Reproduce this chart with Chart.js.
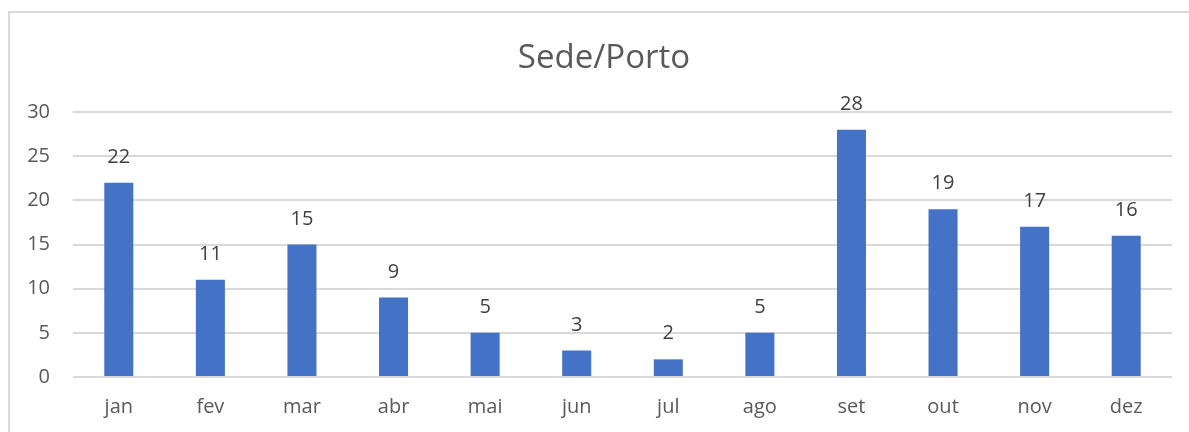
<!DOCTYPE html>
<html>
<head>
<meta charset="utf-8">
<script src="https://cdn.jsdelivr.net/npm/chart.js@4"></script>
<style>
  html, body { margin: 0; padding: 0; background: #fff; overflow: hidden; }
  #wrap { position: relative; width: 1189px; height: 432px; }
  #frame { position: absolute; left: 8px; top: 11px; width: 1190px; height: 440px; border: 2px solid #d9d9d9; box-sizing: border-box; }
  canvas { position: absolute; left: 0; top: 0; }
</style>
</head>
<body>
<div id="wrap">
  <div id="frame"></div>
  <canvas id="chart" width="1189" height="432"></canvas>
</div>
<script>
const months = ['jan', 'fev', 'mar', 'abr', 'mai', 'jun', 'jul', 'ago', 'set', 'out', 'nov', 'dez'];
const values = [22, 11, 15, 9, 5, 3, 2, 5, 28, 19, 17, 16];
const chartTitle = 'Sede/Porto';

const textColor = '#595959';
const fontFamily = '"Open Sans", Calibri, sans-serif';

// draws the value above each bar
const barLabels = {
    id: 'barLabels',
    afterDatasetsDraw(chart) {
        const ctx = chart.ctx;
        const meta = chart.getDatasetMeta(0);
        ctx.save();
        ctx.font = '20px ' + fontFamily;
        ctx.fillStyle = '#404040';
        ctx.textAlign = 'center';
        ctx.textBaseline = 'alphabetic';
        meta.data.forEach((bar, i) => {
            ctx.fillText(String(values[i]), bar.x, bar.y - 20);
        });
        ctx.restore();
    }
};

// title centred on the frame rather than on the canvas
const frameTitle = {
    id: 'frameTitle',
    afterDraw(chart) {
        const ctx = chart.ctx;
        ctx.save();
        ctx.font = '33px ' + fontFamily;
        ctx.fillStyle = textColor;
        ctx.textAlign = 'center';
        ctx.textBaseline = 'middle';
        ctx.fillText(chartTitle, 604, 59);
        ctx.restore();
    }
};

new Chart(document.getElementById('chart').getContext('2d'), {
    type: 'bar',
    data: {
        labels: months,
        datasets: [{
            data: values,
            backgroundColor: '#4472C4',
            barPercentage: 0.317,
            categoryPercentage: 1
        }]
    },
    options: {
        responsive: false,
        animation: false,
        layout: { padding: { left: 0, right: 17, top: 112, bottom: 0 } },
        plugins: {
            legend: { display: false },
            tooltip: { enabled: false },
            title: { display: false }
        },
        scales: {
            x: {
                grid: { display: false, drawTicks: false },
                border: { display: false },
                ticks: { color: textColor, font: { family: fontFamily, size: 20 }, padding: 18 },
                afterFit(scale) { scale.height = 55; }
            },
            y: {
                min: 0,
                max: 30,
                ticks: { stepSize: 5, color: textColor, font: { family: fontFamily, size: 20 }, padding: 23 },
                grid: { color: '#d9d9d9', lineWidth: 2, drawTicks: false },
                border: { display: false },
                afterFit(scale) { scale.width = 73; }
            }
        }
    },
    plugins: [barLabels, frameTitle]
});
</script>
</body>
</html>
